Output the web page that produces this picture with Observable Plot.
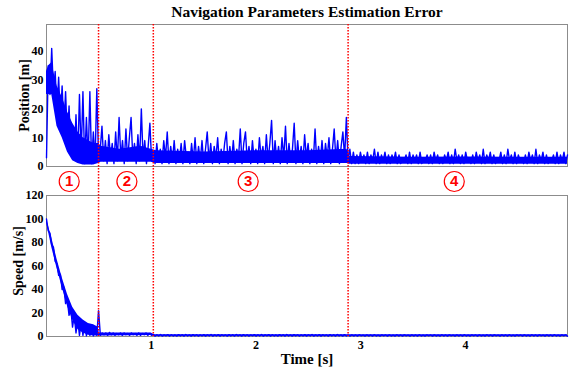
<!DOCTYPE html>
<html><head><meta charset="utf-8">
<script src="https://cdn.jsdelivr.net/npm/d3@7"></script>
<script src="https://cdn.jsdelivr.net/npm/@observablehq/plot@0.6"></script>
<style>
body{margin:0;background:#fff;}
#chart{position:relative;width:576px;height:370px;overflow:hidden;background:#fff;}
#chart svg{position:absolute;left:0;}
</style></head><body><div id="chart"></div>
<script>
// ---- data ----
const titleText = "Navigation Parameters Estimation Error";
const phaseBounds = [0, 0.497, 1.02, 2.88, 4.975];      // time span of each phase [s]
const boundaryTimes = [0.497, 1.02, 2.88];              // red dotted phase boundaries [s]
const phaseLabels = ["1", "2", "3", "4"];
const phaseLabelTimes = [0.217, 0.768, 1.926, 3.894];
const posTicks = [0, 10, 20, 30, 40];
const speedTicks = [0, 20, 40, 60, 80, 100, 120];
const timeTicks = [1, 2, 3, 4];

// Position error [m], spiky samples, one list per phase
const pos1 = [3,35,25,41,26,33,19,31,16,28,13,26,9,21,5,14,3,18,2,25,4,26,1,17,2,26,1,12,2,27];
const pos2 = [3,6,14,2,9,1,11,3,8,1,12,2,17,3,9,1,13,2,10,17,3,8,1,11,2,20,3,9,1,7,15,2];
const pos3 = [5,1,8,2,6,1,9,3,12,1,7,2,9,1,6,2,8,1,9,3,5,1,8,2,10,1,7,2,9,1,6,12,2,8,1,7,3,10,1,6,2,8,12,1,7,2,9,1,6,3,13,1,8,12,2,7,1,9,2,6,1,10,3,7,1,11,2,8,16,1,9,2,7,1,10,3,14,1,8,2,6,15,1,9,2,7,1,11,3,8,1,6,2,13,1,7,2,9,1,8,3,10,1,6,13,2,9,1,7,12,3,17];
const pos4 = [2,6,1,5,1,4,1,5,2,4,1,5,1,4,2,6,1,5,1,4,2,5,1,4,1,4,2,5,1,4,1,3,2,4,1,5,1,4,2,4,1,5,1,3,2,4,1,4,1,5,2,4,1,3,1,4,2,5,1,4,1,6,2,4,1,4,1,5,2,3,1,4,1,5,2,4,1,6,1,4,2,5,1,4,1,3,2,5,1,4,1,6,2,4,1,5,1,4,2,3,1,4,1,5,2,4,1,6,1,4,2,5,1,4,1,3,2,4,1,5,1,4,2,5,1,4];
// Position error dense band (where the trace is solid)
const posBandT  = [0, 0.02, 0.05, 0.1, 0.15, 0.2, 0.25, 0.3, 0.35, 0.4, 0.45, 0.497, 0.52, 0.7, 0.9, 1.0, 1.05, 1.5, 2.0, 2.5, 2.87, 2.89, 3.5, 4.0, 4.5, 4.975];
const posBandLo = [25, 25, 25, 14, 10, 5, 2, 1, 0.5, 0.5, 0.5, 1, 1.5, 1.5, 1.5, 1.5, 1, 1, 1, 1, 1, 0.8, 0.8, 0.8, 0.8, 0.8];
const posBandHi = [33, 35, 36, 28, 24, 19, 15, 12, 10, 9, 8, 8, 7, 6, 7, 6, 5.5, 5, 5.5, 5.5, 6, 3.5, 3.2, 3.3, 3.2, 3.2];

// Speed error [m/s], samples, one list per phase
const spd1 = [100,90,88,78,76,64,62,52,53,40,42,28,31,18,24,8,18,3,14,1,12,1,11,0.5,10,1,9,0.5,8,1];
const spd2 = [22,1,3,1.5,3,1,3.5,1.5,3,1,2.5,1.5,3,1,3,1.5,2.5,1,3,1.5,2.5,1,3,1,2.5,1.5,3,1,2.5,1];
const spd3 = [1.6,0.3,1.5,0.4,1.7,0.3,1.4,0.5,1.6,0.3,1.5,0.4,1.3,0.3,1.6,0.5,1.5,0.3,1.7,0.4,1.4,0.3,1.6,0.5,1.5,0.3,1.4,0.4,1.6,0.3,1.5,0.5,1.7,0.3,1.4,0.4,1.6,0.3,1.5,0.5,1.3,0.3,1.6,0.4,1.5,0.3,1.7,0.5,1.4,0.3,1.6,0.4,1.5,0.3,1.4,0.5,1.6,0.3,1.5,0.4,1.7,0.3,1.4,0.5,1.6,0.3,1.5,0.4,1.3,0.3,1.6,0.5,1.5,0.3,1.7,0.4,1.4,0.3,1.6,0.5,1.5,0.3,1.4,0.4,1.6,0.3,1.5,0.5,1.7,0.3,1.4,0.4,1.6,0.3,1.5,0.5,1.3,0.3,1.6,0.4,1.5,0.3,1.7,0.5,1.4,0.3,1.6,0.4];
const spd4 = [1.2,0.3,1.4,0.4,1.3,0.3,1.5,0.5,1.2,0.3,1.4,0.4,1.3,0.3,1.5,0.4,1.2,0.3,1.4,0.5,1.3,0.3,1.4,0.4,1.2,0.3,1.5,0.4,1.3,0.3,1.4,0.5,1.2,0.3,1.4,0.4,1.3,0.3,1.5,0.4,1.2,0.3,1.4,0.5,1.3,0.3,1.4,0.4,1.2,0.3,1.5,0.4,1.3,0.3,1.4,0.5,1.2,0.3,1.4,0.4,1.3,0.3,1.5,0.4,1.2,0.3,1.4,0.5,1.3,0.3,1.4,0.4,1.2,0.3,1.5,0.4,1.3,0.3,1.4,0.5,1.2,0.3,1.4,0.4,1.3,0.3,1.5,0.4,1.2,0.3,1.4,0.5,1.3,0.3,1.4,0.4,1.2,0.3,1.5,0.4,1.3,0.3,1.4,0.5,1.2,0.3,1.4,0.4,1.3,0.3,1.5,0.4,1.2,0.3,1.4,0.5,1.3,0.3];
// Speed error dense band
const spdBandT  = [0, 0.05, 0.1, 0.15, 0.2, 0.25, 0.3, 0.35, 0.4, 0.45, 0.49, 0.505, 1.0, 1.03, 4.975];
const spdBandLo = [97, 76, 58, 42, 26, 14, 6, 3, 1, 0.5, 0.5, 0.5, 0.8, 0.3, 0.3];
const spdBandHi = [100, 84, 66, 50, 36, 25, 18, 14, 11, 10, 8, 3, 3, 1.4, 1.4];

// ---- build tables ----
function toSeries(segments) {
  const out = [];
  segments.forEach((seg, p) => {
    const a = phaseBounds[p], b = phaseBounds[p + 1];
    const last = p === segments.length - 1;
    const n = last ? seg.length - 1 : seg.length;
    seg.forEach((v, k) => out.push({t: a + (b - a) * k / n, v}));
  });
  return out;
}
function toBand(T, lo, hi) { return T.map((t, i) => ({t, lo: lo[i], hi: hi[i]})); }
const posData = toSeries([pos1, pos2, pos3, pos4]);
const spdData = toSeries([spd1, spd2, spd3, spd4]);
const posBand = toBand(posBandT, posBandLo, posBandHi);
const spdBand = toBand(spdBandT, spdBandLo, spdBandHi);
const labelData = phaseLabelTimes.map((t, i) => ({t, l: phaseLabels[i]}));

const serif = "'Liberation Serif','Times New Roman',Times,serif";
const baseStyle = {fontFamily: serif, fontWeight: "bold", fontSize: "12px", background: "transparent", overflow: "visible", color: "#000"};
const blue = "#0000ff";
const red = "#ff0000";
const frameGray = "#8c8c8c";

const topPlot = Plot.plot({
  width: 576, height: 185,
  marginLeft: 46, marginRight: 9, marginTop: 24, marginBottom: 19,
  style: baseStyle,
  x: {domain: [0, 4.975], axis: null},
  y: {domain: [0, 49.3], ticks: posTicks, tickSize: 0, tickPadding: 3, label: null},
  marks: [
    Plot.frame({stroke: frameGray}),
    Plot.areaY(posBand, {x: "t", y1: "lo", y2: "hi", fill: blue}),
    Plot.line(posData, {x: "t", y: "v", stroke: blue, strokeWidth: 1.4}),
    Plot.ruleX(boundaryTimes, {stroke: red, strokeWidth: 1.5, strokeDasharray: "1.5,1.5", insetBottom: -19}),
    Plot.dot(labelData, {x: "t", frameAnchor: "bottom", dy: 15, r: 10, stroke: red, fill: "white", strokeWidth: 1.2}),
    Plot.text(labelData, {x: "t", text: "l", frameAnchor: "bottom", lineAnchor: "middle", dy: 15, fill: red, fontFamily: "'Liberation Sans',Arial,sans-serif", fontSize: 15, fontWeight: "bold"}),
    Plot.text([titleText], {frameAnchor: "top", lineAnchor: "middle", dy: -12, fontSize: 15.5, fontWeight: "bold"}),
    Plot.text(["Position [m]"], {frameAnchor: "left", textAnchor: "middle", lineAnchor: "middle", dx: -22, rotate: -90, fontSize: 14, fontWeight: "bold"})
  ]
});

const bottomPlot = Plot.plot({
  width: 576, height: 185,
  marginLeft: 46, marginRight: 9, marginTop: 10, marginBottom: 34,
  style: baseStyle,
  x: {domain: [0, 4.975], ticks: timeTicks, tickFormat: "d", tickSize: 0, tickPadding: 4, label: null},
  y: {domain: [0, 120], ticks: speedTicks, tickSize: 0, tickPadding: 3, label: null},
  marks: [
    Plot.frame({stroke: frameGray}),
    Plot.areaY(spdBand, {x: "t", y1: "lo", y2: "hi", fill: blue}),
    Plot.line(spdData, {x: "t", y: "v", stroke: blue, strokeWidth: 1.4}),
    Plot.ruleX(boundaryTimes, {stroke: red, strokeWidth: 1.5, strokeDasharray: "1.5,1.5", insetTop: -10}),
    Plot.text(["Time [s]"], {frameAnchor: "bottom", lineAnchor: "middle", dy: 23, fontSize: 15, fontWeight: "bold"}),
    Plot.text(["Speed [m/s]"], {frameAnchor: "left", textAnchor: "middle", lineAnchor: "middle", dx: -28, dy: -5, rotate: -90, fontSize: 14, fontWeight: "bold"})
  ]
});

const chart = document.getElementById("chart");
topPlot.style.top = "0px";
bottomPlot.style.top = "185px";
chart.appendChild(topPlot);
chart.appendChild(bottomPlot);
</script>
</body></html>
